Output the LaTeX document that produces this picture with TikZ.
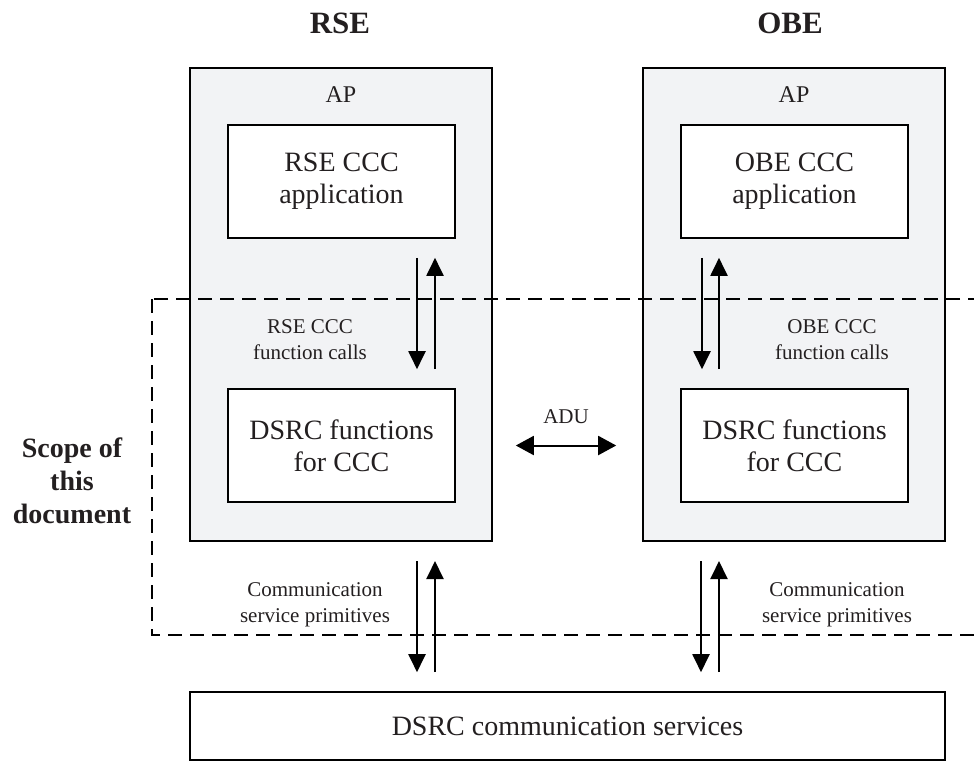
\documentclass[tikz,border=0pt]{standalone}
\usepackage{fontspec}
\setmainfont{Liberation Serif}
\usetikzlibrary{arrows.meta}
\definecolor{apgray}{HTML}{F2F3F5}
\definecolor{inktext}{HTML}{231F20}

\begin{document}
\begin{tikzpicture}
	[x=0.5pt,y=-0.5pt,text=inktext]
	\tikzstyle{apbox}=[draw, line width=1pt, fill=apgray, minimum width=151pt, minimum height=236.5pt];
	\tikzstyle{fbox}=[draw, line width=0.8pt, fill=white, minimum width=113.5pt, minimum height=56.5pt, align=center, font=\fontsize{14}{16}\selectfont];
	\tikzstyle{arr}=[-{Triangle[length=9pt,width=8.5pt]}, line width=1pt, shorten <=9.5pt, shorten >=9.5pt];
	\tikzstyle{small}=[align=center, font=\fontsize{10.5}{13}\selectfont];
	\tikzstyle{title}=[font=\fontsize{15.5}{18}\selectfont\bfseries];

	\useasboundingbox (0,0) rectangle (974,767);
	\clip (0,0) rectangle (974,767);

	\node[title] (rse) at (340,23) {RSE};
	\node[title] (obe) at (790,23) {OBE};

	\node[apbox] (rap) at (341,304.5) {};
	\node[apbox] (oap) at (794,304.5) {};

	% scope of this document
	\draw[dash pattern=on 7pt off 4pt, line width=0.8pt] (152,299) rectangle (990,635);

	\node[font=\fontsize{12}{14}\selectfont] (raplbl) at (341,95) {AP};
	\node[font=\fontsize{12}{14}\selectfont] (oaplbl) at (794,95) {AP};

	\node[fbox] (rapp) at (341.5,181.5) {RSE CCC\\application};
	\node[fbox] (oapp) at (794.5,181.5) {OBE CCC\\application};
	\node[fbox] (rfun) at (341.5,445.5) {DSRC functions\\for CCC};
	\node[fbox] (ofun) at (794.5,445.5) {DSRC functions\\for CCC};
	\node[fbox, minimum width=377.5pt, minimum height=34pt] (comm) at (567.5,726) {DSRC communication services};

	\node[align=center, font=\fontsize{14}{16.5}\selectfont\bfseries] (scope) at (72,481) {Scope of\\this\\document};

	\node[small] (rcalls) at (310,340) {RSE CCC\\function calls};
	\node[small] (ocalls) at (832,340) {OBE CCC\\function calls};
	\node[small] (rprim) at (315,605) {Communication\\service primitives};
	\node[small] (oprim) at (837,605) {Communication\\service primitives};
	\node[small] (adu) at (566,417) {ADU};

	\draw[arr] ([xshift=37.75pt]rapp.south) -- ([xshift=37.75pt]rfun.north);
	\draw[arr] ([xshift=46.75pt]rfun.north) -- ([xshift=46.75pt]rapp.south);
	\draw[arr] ([xshift=-46.25pt]oapp.south) -- ([xshift=-46.25pt]ofun.north);
	\draw[arr] ([xshift=-37.75pt]ofun.north) -- ([xshift=-37.75pt]oapp.south);

	\draw[arr] ([xshift=38pt]rap.south) -- ([xshift=38pt]rap.south |- comm.north);
	\draw[arr] ([xshift=47pt]rap.south |- comm.north) -- ([xshift=47pt]rap.south);
	\draw[arr] ([xshift=-46.5pt]oap.south) -- ([xshift=-46.5pt]oap.south |- comm.north);
	\draw[arr] ([xshift=-37.5pt]oap.south |- comm.north) -- ([xshift=-37.5pt]oap.south);

	\draw[{Triangle[length=9pt,width=9.5pt]}-{Triangle[length=9pt,width=9.5pt]}, line width=1pt, shorten <=30pt, shorten >=32pt] (rfun.east) -- (ofun.west);

\end{tikzpicture}
\end{document}
